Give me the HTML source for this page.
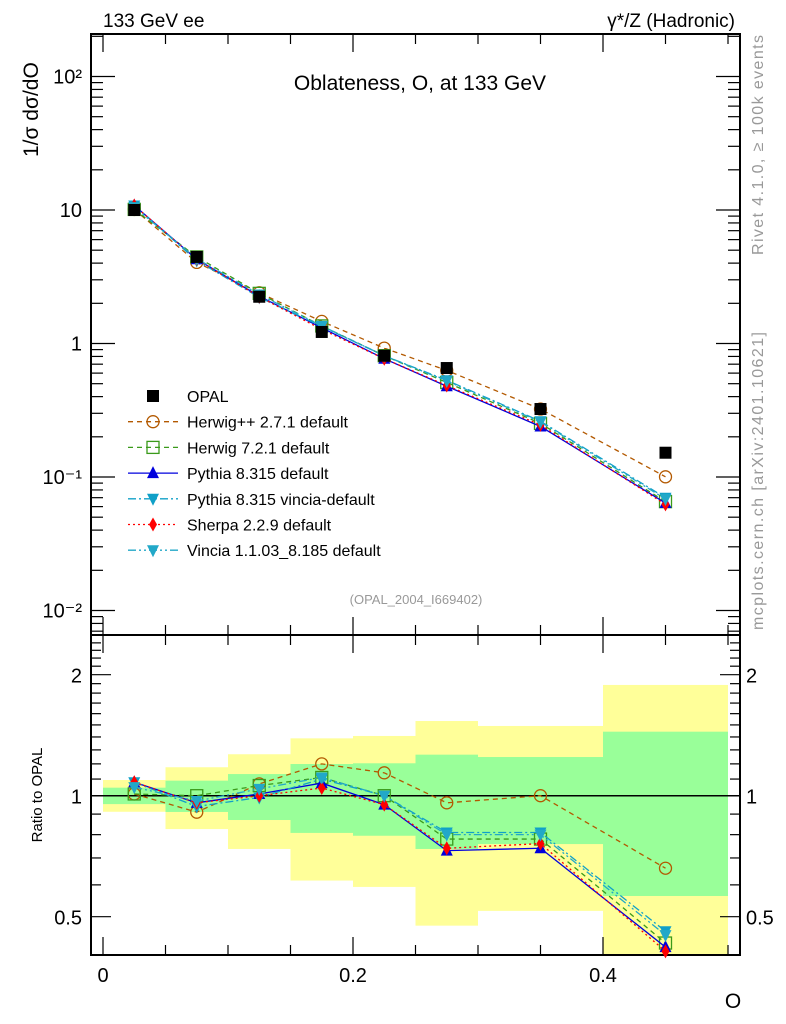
<!DOCTYPE html>
<html><head><meta charset="utf-8">
<style>
html,body{margin:0;padding:0;background:#fff;}
svg{display:block;font-family:"Liberation Sans",sans-serif;}
</style></head>
<body>
<svg id="chart" width="786" height="1024" viewBox="0 0 786 1024">
  <rect x="0" y="0" width="786" height="1024" fill="#fff"/>
  <g id="bands"></g>
  <g id="axes"></g>
  <g id="series"></g>
  <text x="103" y="27" font-size="19">133 GeV ee</text>
  <text x="735" y="27" font-size="19" text-anchor="end">γ*/Z (Hadronic)</text>
  <text x="420" y="90" font-size="21" text-anchor="middle">Oblateness, O, at 133 GeV</text>
  <text transform="translate(38,157) rotate(-90)" font-size="21">1/σ  dσ/dO</text>
  <text transform="translate(42,795) rotate(-90)" font-size="15" text-anchor="middle">Ratio to OPAL</text>
  <text x="733" y="1008" font-size="21" text-anchor="middle">O</text>
  <text transform="translate(763,255) rotate(-90)" font-size="16" fill="#999" textLength="220">Rivet 4.1.0, ≥ 100k events</text>
  <text transform="translate(763,630) rotate(-90)" font-size="16" fill="#999" textLength="298">mcplots.cern.ch [arXiv:2401.10621]</text>
  <text x="416" y="604" font-size="13" fill="#999" text-anchor="middle">(OPAL_2004_I669402)</text>
  <g id="legend"></g>
</svg>
<script>
const xCenters = [0.025, 0.075, 0.125, 0.175, 0.225, 0.275, 0.35, 0.45];
const binEdges = [0, 0.05, 0.1, 0.15, 0.2, 0.25, 0.3, 0.4, 0.5];
const opalValues = [10.0, 4.45, 2.24, 1.22, 0.81, 0.655, 0.323, 0.152];
const greenLow = [0.953, 0.911, 0.87, 0.808, 0.795, 0.737, 0.758, 0.563];
const greenHigh = [1.047, 1.09, 1.132, 1.199, 1.204, 1.265, 1.248, 1.443];
const yellowLow = [0.912, 0.826, 0.737, 0.615, 0.593, 0.475, 0.517, 0.35];
const yellowHigh = [1.094, 1.177, 1.268, 1.389, 1.408, 1.534, 1.491, 1.886];
const ratioHerwigpp = [1.01, 0.91, 1.07, 1.2, 1.14, 0.96, 1.0, 0.66];
const ratioHerwig7 = [1.01, 1.0, 1.06, 1.11, 1.0, 0.78, 0.78, 0.43];
const ratioPythia = [1.08, 0.96, 1.01, 1.075, 0.95, 0.73, 0.74, 0.42];
const ratioSherpa = [1.08, 0.96, 1.0, 1.045, 0.95, 0.74, 0.76, 0.41];
const ratioVinciaDef = [1.08, 0.94, 0.99, 1.1, 1.0, 0.81, 0.81, 0.46];
const ratioVincia = [1.05, 0.97, 1.04, 1.11, 1.0, 0.8, 0.8, 0.45];
const legendLabels = ["OPAL","Herwig++ 2.7.1 default","Herwig 7.2.1 default","Pythia 8.315 default","Pythia 8.315 vincia-default","Sherpa 2.2.9 default","Vincia 1.1.03_8.185 default"];
const yTickLabels = ["10⁻²","10⁻¹","1","10","10²"];
const ratioTickLabels = ["0.5","1","2"];
const xTickLabels = ["0","0.2","0.4"];

const NS="http://www.w3.org/2000/svg";
const L=91,R=740,T=34,MB=635,RB=955;
const X=v=>103+1250*v;
const Y=v=>343.5-133.5*Math.log10(v);
const RY=v=>795.7-121*Math.log2(v);
function mk(tag,attrs,parent){const e=document.createElementNS(NS,tag);for(const k in attrs)e.setAttribute(k,attrs[k]);parent.appendChild(e);return e;}
const axes=document.getElementById('axes'),bands=document.getElementById('bands'),ser=document.getElementById('series'),leg=document.getElementById('legend');

for(let i=0;i<8;i++){
  const x0=X(binEdges[i]),x1=X(binEdges[i+1]);
  const yl=Math.min(RY(yellowLow[i]),RB),yh=RY(yellowHigh[i]);
  const r1=mk('rect',{x:x0,y:yh,width:x1-x0,height:yl-yh,fill:'#ffff99'},bands);
  
  
  const gl=Math.min(RY(greenLow[i]),RB),gh=RY(greenHigh[i]);
  const r2=mk('rect',{x:x0,y:gh,width:x1-x0,height:gl-gh,fill:'#99ff99'},bands);
  
  
}

mk('rect',{x:L,y:T,width:R-L,height:MB-T,fill:'none',stroke:'#000','stroke-width':2},axes);
mk('rect',{x:L,y:MB,width:R-L,height:RB-MB,fill:'none',stroke:'#000','stroke-width':2},axes);
mk('line',{x1:L,x2:R,y1:RY(1),y2:RY(1),stroke:'#000','stroke-width':1.5},axes);

for(let k=0;k<=10;k++){
  const v=k*0.05,x=X(v),maj=(k%4===0);
  const len=maj?18:10;
  for(const [y0,d] of [[T,1],[MB,-1],[MB,1],[RB,-1]]){
    mk('line',{x1:x,x2:x,y1:y0,y2:y0+d*len,stroke:'#000','stroke-width':1.2},axes);
  }
}
xTickLabels.forEach((t,i)=>{const e=mk('text',{x:X(i*0.2),y:982,'font-size':20,'text-anchor':'middle'},axes);e.textContent=t;
  
  });

for(let d=-3;d<=2;d++){
  for(let m=1;m<10;m++){
    const v=m*Math.pow(10,d),y=Y(v);
    if(y<T||y>MB)continue;
    const len=m===1?24:12;
    mk('line',{x1:L,x2:L+len,y1:y,y2:y,stroke:'#000','stroke-width':1.2},axes);
    mk('line',{x1:R,x2:R-len,y1:y,y2:y,stroke:'#000','stroke-width':1.2},axes);
  }
}
yTickLabels.forEach((t,i)=>{const v=Math.pow(10,i-2);const e=mk('text',{x:82,y:Y(v)+7,'font-size':20,'text-anchor':'end'},axes);e.textContent=t;
  
  });

[0.4,0.5,0.6,0.7,0.8,0.9,1,1.1,1.2,1.3,1.4,1.5,1.6,1.7,1.8,1.9,2,2.1,2.2,2.3,2.4].forEach(v=>{
  const y=RY(v);if(y<MB||y>RB)return;const maj=(v===0.5||v===1||v===2);const len=maj?20:10;
  mk('line',{x1:L,x2:L+len,y1:y,y2:y,stroke:'#000','stroke-width':1.2},axes);
  mk('line',{x1:R,x2:R-len,y1:y,y2:y,stroke:'#000','stroke-width':1.2},axes);
});
ratioTickLabels.forEach((t,i)=>{const v=[0.5,1,2][i];
  const e=mk('text',{x:82,y:RY(v)+8,'font-size':20,'text-anchor':'end'},axes);e.textContent=t;
  
  
  const e2=mk('text',{x:746,y:RY(v)+8,'font-size':20},axes);e2.textContent=t;
  
  });

function marker(type,x,y,color,parent){
  if(type==='square')return mk('rect',{x:x-6,y:y-6,width:12,height:12,fill:'#000'},parent);
  if(type==='circle')return mk('circle',{cx:x,cy:y,r:6,fill:'none',stroke:color,'stroke-width':1.3},parent);
  if(type==='osquare')return mk('rect',{x:x-6,y:y-6,width:12,height:12,fill:'none',stroke:color,'stroke-width':1.3},parent);
  if(type==='tup')return mk('polygon',{points:`${x},${y-7} ${x-6},${y+5} ${x+6},${y+5}`,fill:color},parent);
  if(type==='tdown')return mk('polygon',{points:`${x},${y+7} ${x-6},${y-5} ${x+6},${y-5}`,fill:color},parent);
  if(type==='diamond')return mk('polygon',{points:`${x},${y-7} ${x-4},${y} ${x},${y+7} ${x+4},${y}`,fill:color},parent);
}
const series=[
  {name:'herwigpp',r:ratioHerwigpp,c:'#b35900',dash:'5,4',m:'circle'},
  {name:'herwig7',r:ratioHerwig7,c:'#3a9a1a',dash:'5,4',m:'osquare'},
  {name:'pythia',r:ratioPythia,c:'#0000dd',dash:'',m:'tup'},
  {name:'vincia-default',r:ratioVinciaDef,c:'#10a0c8',dash:'8,3,2,3',m:'tdown'},
  {name:'sherpa',r:ratioSherpa,c:'#ff0000',dash:'2,3',m:'diamond'},
  {name:'vincia',r:ratioVincia,c:'#22a8c8',dash:'8,3,2,3,2,3',m:'tdown'}
];
series.forEach(s=>{
  const g=mk('g',{},ser);
  
  
  const mp=xCenters.map((x,i)=>`${X(x)},${Y(opalValues[i]*s.r[i])}`).join(' ');
  const rp=xCenters.map((x,i)=>`${X(x)},${Math.min(RY(s.r[i]),RB)}`).join(' ');
  mk('polyline',{points:mp,fill:'none',stroke:s.c,'stroke-width':1.3,'stroke-dasharray':s.dash},g);
  mk('polyline',{points:rp,fill:'none',stroke:s.c,'stroke-width':1.3,'stroke-dasharray':s.dash},g);
  xCenters.forEach((x,i)=>{
    const a=marker(s.m,X(x),Y(opalValues[i]*s.r[i]),s.c,g);
    
    
    const ry=RY(s.r[i]);
    if(ry<=RB+4){const b=marker(s.m,X(x),ry,s.c,g);
      
      }
  });
});
xCenters.forEach((x,i)=>{
  const p=marker('square',X(x),Y(opalValues[i]),'#000',ser);
  
  
});

const legStyles=[{m:'square',c:'#000',dash:null},...series.map(s=>({m:s.m,c:s.c,dash:s.dash}))];
legendLabels.forEach((t,i)=>{
  const st=legStyles[i];
  const y=396+25.7*i;
  const g=mk('g',{},leg);
  
  
  if(st.dash!==null)mk('line',{x1:128,x2:178,y1:y,y2:y,stroke:st.c,'stroke-width':1.3,'stroke-dasharray':st.dash},g);
  marker(st.m,153,y,st.c,g);
  const e=mk('text',{x:187,y:y+6,'font-size':16},g);e.textContent=t;
});
</script>
</body></html>
